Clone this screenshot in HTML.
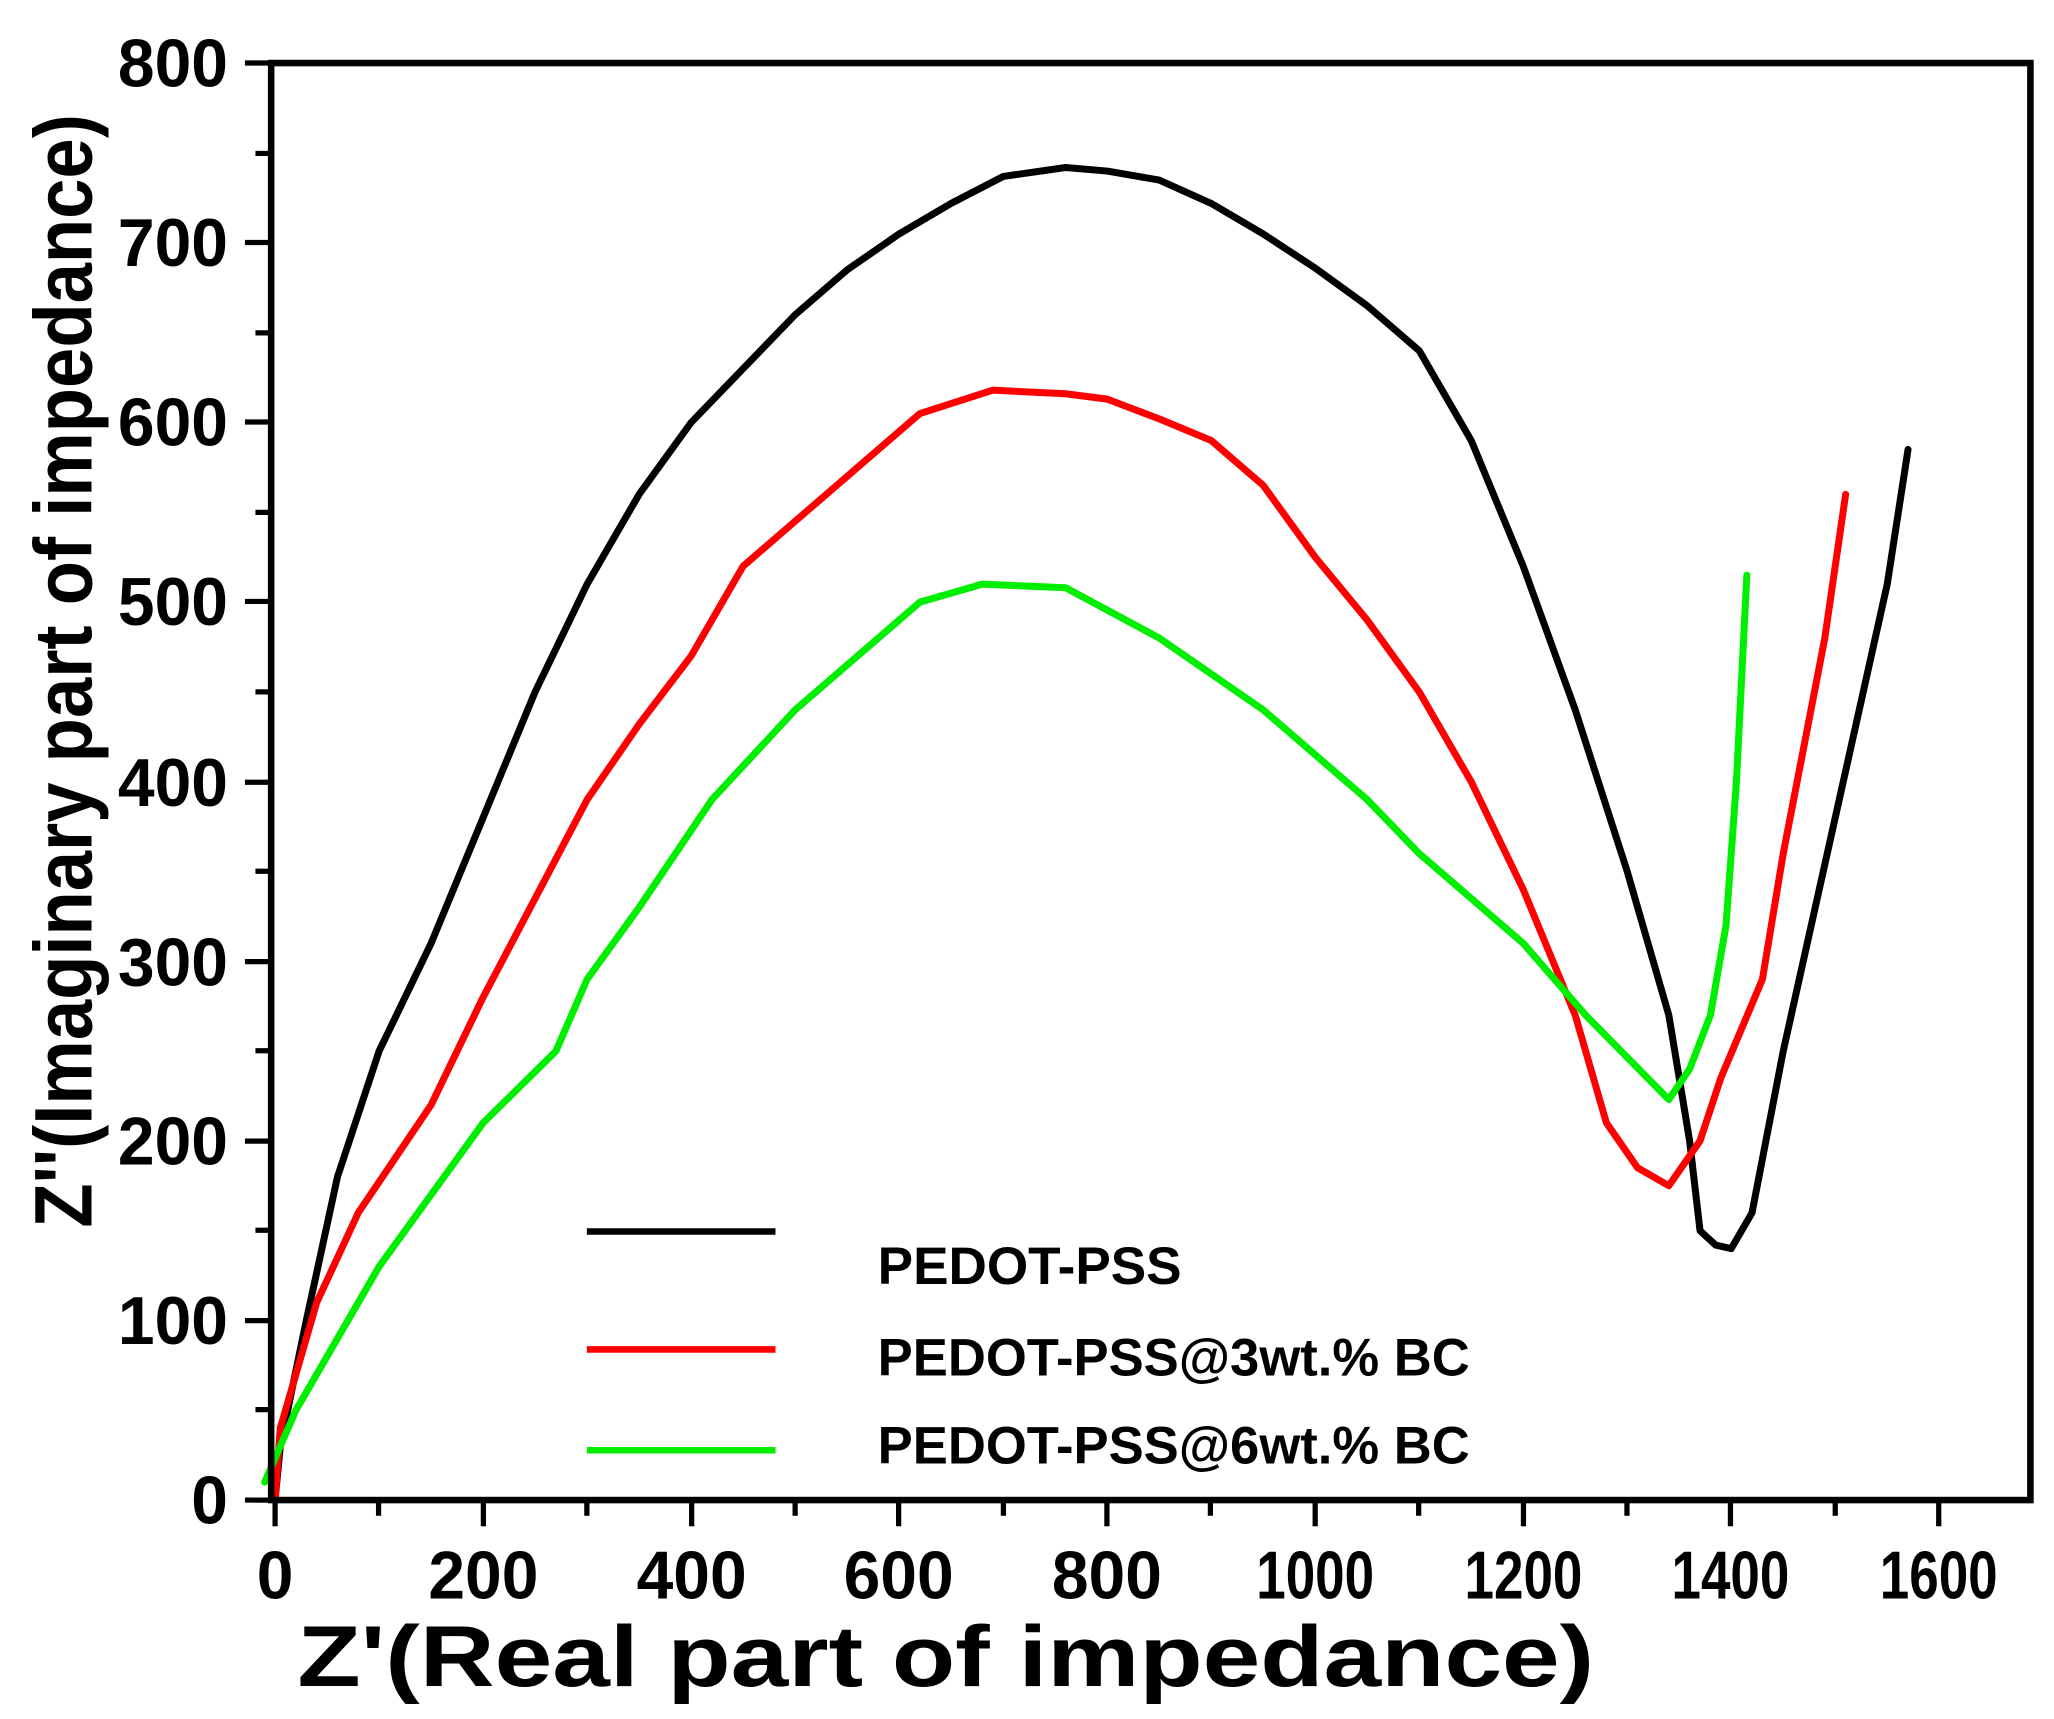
<!DOCTYPE html>
<html><head><style>html,body{margin:0;padding:0;background:#fff}svg{display:block}</style></head>
<body>
<svg width="2054" height="1719" viewBox="0 0 1568 1312" xmlns="http://www.w3.org/2000/svg" font-family="Liberation Sans, Arial, sans-serif" font-weight="bold">
<rect width="1568" height="1312" fill="#fff"/>
<g fill="none" stroke-linejoin="round" stroke-linecap="round">
<g transform="translate(210,1145) scale(0.794,-1.371)">
<polyline vector-effect="non-scaling-stroke" stroke="#000" stroke-width="7" points="0,0 5,30 30,100 60,180 100,250 150,310 200,380 250,450 300,510 350,560 400,600 450,630 500,660 550,685 600,705 650,722 700,737 760,742 800,740 850,735 900,722 950,705 1000,686 1050,665 1100,640 1150,590 1200,520 1250,440 1300,350 1340,270 1360,200 1370,150 1385,142 1400,140 1420,160 1450,250 1500,380 1550,510 1570,585"/>
<polyline vector-effect="non-scaling-stroke" stroke="#ff0000" stroke-width="7" points="0,0 5,40 40,110 80,160 150,220 200,280 250,335 300,390 350,432 400,470 450,520 500,545 550,570 620,605 690,618 760,616 800,613 850,602 900,590 950,565 1000,525 1050,490 1100,450 1150,400 1200,340 1250,270 1280,210 1310,185 1340,175 1370,200 1390,235 1430,290 1450,360 1490,480 1510,560"/>
<polyline vector-effect="non-scaling-stroke" stroke="#00ee00" stroke-width="7" points="-10,10 20,50 60,90 100,130 150,170 200,210 270,250 300,290 350,330 420,390 500,440 600,490 620,500 680,510 760,508 850,480 950,440 1050,390 1100,360 1200,310 1260,270 1340,223 1360,240 1380,270 1395,320 1405,400 1415,515"/>
</g>
</g>
<g stroke="#000" stroke-width="5" fill="none">
<rect x="207" y="48" width="1343" height="1097"/>
</g>
<g stroke="#000" stroke-width="4">
<line x1="193" y1="1145" x2="207" y2="1145"/>
<line x1="210" y1="1145" x2="210" y2="1165"/><line x1="289" y1="1145" x2="289" y2="1157"/>
<line x1="369" y1="1145" x2="369" y2="1165"/><line x1="448" y1="1145" x2="448" y2="1157"/>
<line x1="528" y1="1145" x2="528" y2="1165"/><line x1="607" y1="1145" x2="607" y2="1157"/>
<line x1="686" y1="1145" x2="686" y2="1165"/><line x1="766" y1="1145" x2="766" y2="1157"/>
<line x1="845" y1="1145" x2="845" y2="1165"/><line x1="924" y1="1145" x2="924" y2="1157"/>
<line x1="1004" y1="1145" x2="1004" y2="1165"/><line x1="1083" y1="1145" x2="1083" y2="1157"/>
<line x1="1163" y1="1145" x2="1163" y2="1165"/><line x1="1242" y1="1145" x2="1242" y2="1157"/>
<line x1="1321" y1="1145" x2="1321" y2="1165"/><line x1="1401" y1="1145" x2="1401" y2="1157"/>
<line x1="1480" y1="1145" x2="1480" y2="1165"/>
<line x1="187" y1="1145" x2="207" y2="1145"/><line x1="195" y1="1076" x2="207" y2="1076"/>
<line x1="187" y1="1008" x2="207" y2="1008"/><line x1="195" y1="939" x2="207" y2="939"/>
<line x1="187" y1="871" x2="207" y2="871"/><line x1="195" y1="802" x2="207" y2="802"/>
<line x1="187" y1="734" x2="207" y2="734"/><line x1="195" y1="665" x2="207" y2="665"/>
<line x1="187" y1="597" x2="207" y2="597"/><line x1="195" y1="528" x2="207" y2="528"/>
<line x1="187" y1="459" x2="207" y2="459"/><line x1="195" y1="391" x2="207" y2="391"/>
<line x1="187" y1="322" x2="207" y2="322"/><line x1="195" y1="254" x2="207" y2="254"/>
<line x1="187" y1="185" x2="207" y2="185"/><line x1="195" y1="117" x2="207" y2="117"/>
<line x1="187" y1="48" x2="207" y2="48"/>
</g>
<g font-size="52" text-anchor="end" fill="#000">
<text x="174" y="1163" textLength="28" lengthAdjust="spacingAndGlyphs">0</text>
<text x="174" y="1026" textLength="84" lengthAdjust="spacingAndGlyphs">100</text>
<text x="174" y="889" textLength="84" lengthAdjust="spacingAndGlyphs">200</text>
<text x="174" y="752" textLength="84" lengthAdjust="spacingAndGlyphs">300</text>
<text x="174" y="615" textLength="84" lengthAdjust="spacingAndGlyphs">400</text>
<text x="174" y="477" textLength="84" lengthAdjust="spacingAndGlyphs">500</text>
<text x="174" y="340" textLength="84" lengthAdjust="spacingAndGlyphs">600</text>
<text x="174" y="203" textLength="84" lengthAdjust="spacingAndGlyphs">700</text>
<text x="174" y="66" textLength="84" lengthAdjust="spacingAndGlyphs">800</text>
</g>
<g font-size="52" text-anchor="middle" fill="#000">
<text x="210" y="1220" textLength="28" lengthAdjust="spacingAndGlyphs">0</text>
<text x="369" y="1220" textLength="84" lengthAdjust="spacingAndGlyphs">200</text>
<text x="528" y="1220" textLength="84" lengthAdjust="spacingAndGlyphs">400</text>
<text x="686" y="1220" textLength="84" lengthAdjust="spacingAndGlyphs">600</text>
<text x="845" y="1220" textLength="84" lengthAdjust="spacingAndGlyphs">800</text>
<text x="1004" y="1220" textLength="90" lengthAdjust="spacingAndGlyphs">1000</text>
<text x="1163" y="1220" textLength="90" lengthAdjust="spacingAndGlyphs">1200</text>
<text x="1321" y="1220" textLength="90" lengthAdjust="spacingAndGlyphs">1400</text>
<text x="1480" y="1220" textLength="90" lengthAdjust="spacingAndGlyphs">1600</text>
</g>
<text x="722" y="1287" font-size="66" text-anchor="middle" textLength="990" lengthAdjust="spacingAndGlyphs">Z'(Real part of impedance)</text>
<text transform="translate(70,512) rotate(-90)" font-size="62" text-anchor="middle" textLength="850" lengthAdjust="spacingAndGlyphs">Z''(Imaginary part of impedance)</text>
<g stroke-width="5">
<line x1="448" y1="940" x2="592" y2="940" stroke="#000"/>
<line x1="448" y1="1030" x2="592" y2="1030" stroke="#ff0000"/>
<line x1="448" y1="1107" x2="592" y2="1107" stroke="#00ee00"/>
</g>
<g font-size="40" fill="#000">
<text x="670" y="980" textLength="232" lengthAdjust="spacingAndGlyphs">PEDOT-PSS</text>
<text x="670" y="1050" textLength="452" lengthAdjust="spacingAndGlyphs">PEDOT-PSS@3wt.% BC</text>
<text x="670" y="1117" textLength="452" lengthAdjust="spacingAndGlyphs">PEDOT-PSS@6wt.% BC</text>
</g>
</svg>
</body></html>
